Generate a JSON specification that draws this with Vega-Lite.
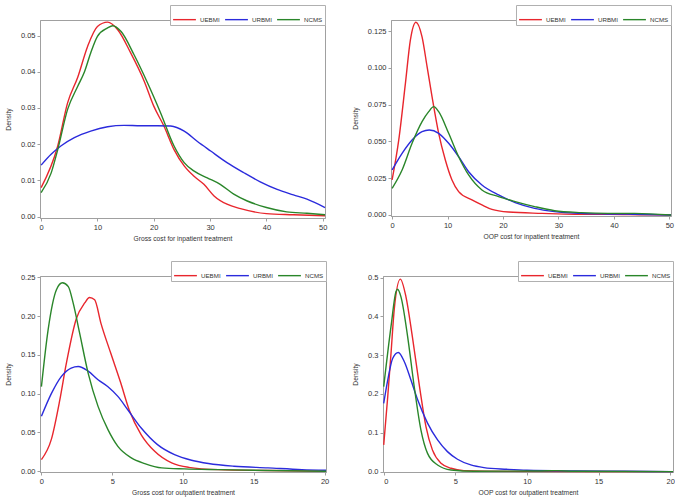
{
  "$schema": "https://vega.github.io/schema/vega-lite/v6.json",
  "background": "white",
  "padding": {"left": 4, "top": 4, "right": 2, "bottom": 2},
  "config": {
    "font": "Liberation Sans",
    "view": {"stroke": "#a0a0a0", "strokeWidth": 1},
    "axis": {"grid": false, "domainColor": "#a0a0a0", "tickColor": "#a0a0a0", "tickSize": 3, "labelFontSize": 7.5, "labelColor": "#333", "titleFontSize": 6.7, "titleFontWeight": "normal", "titleColor": "#333", "labelPadding": 2},
    "axisY": {"titlePadding": 9},
    "axisX": {"titlePadding": 5},
    "legend": {"orient": "none", "direction": "horizontal", "symbolType": "stroke", "symbolSize": 520, "symbolStrokeWidth": 1.5, "labelFontSize": 6.2, "labelColor": "#333", "strokeColor": "#b0b0b0", "padding": 2, "columnPadding": 2, "labelOffset": 3, "title": null, "fillColor": "white"},
    "line": {"strokeWidth": 1.4, "interpolate": "monotone", "clip": true}
  },
  "datasets": {
    "p1": [
      {"x": 0, "y": 0.008, "s": "UEBMI"}, {"x": 2.95, "y": 0.0195, "s": "UEBMI"}, {"x": 4.7, "y": 0.0314, "s": "UEBMI"}, {"x": 6.5, "y": 0.0385, "s": "UEBMI"}, {"x": 8.25, "y": 0.047, "s": "UEBMI"}, {"x": 10, "y": 0.0525, "s": "UEBMI"}, {"x": 11.8, "y": 0.0537, "s": "UEBMI"}, {"x": 13.6, "y": 0.0516, "s": "UEBMI"}, {"x": 15.9, "y": 0.0452, "s": "UEBMI"}, {"x": 18.3, "y": 0.0374, "s": "UEBMI"}, {"x": 20, "y": 0.0305, "s": "UEBMI"}, {"x": 21.8, "y": 0.025, "s": "UEBMI"}, {"x": 23.6, "y": 0.0185, "s": "UEBMI"}, {"x": 25.4, "y": 0.014, "s": "UEBMI"}, {"x": 27.1, "y": 0.0112, "s": "UEBMI"}, {"x": 28.9, "y": 0.0089, "s": "UEBMI"}, {"x": 30.7, "y": 0.0057, "s": "UEBMI"}, {"x": 33, "y": 0.0034, "s": "UEBMI"}, {"x": 35.4, "y": 0.0022, "s": "UEBMI"}, {"x": 40, "y": 0.0008, "s": "UEBMI"}, {"x": 44.8, "y": 0.0005, "s": "UEBMI"}, {"x": 50.4, "y": 0.0002, "s": "UEBMI"},
      {"x": 0, "y": 0.0142, "s": "URBMI"}, {"x": 1.77, "y": 0.0172, "s": "URBMI"}, {"x": 3.5, "y": 0.0195, "s": "URBMI"}, {"x": 5.9, "y": 0.0218, "s": "URBMI"}, {"x": 8.8, "y": 0.0236, "s": "URBMI"}, {"x": 11.8, "y": 0.0248, "s": "URBMI"}, {"x": 14.7, "y": 0.0252, "s": "URBMI"}, {"x": 17.7, "y": 0.0251, "s": "URBMI"}, {"x": 20.6, "y": 0.0251, "s": "URBMI"}, {"x": 23, "y": 0.025, "s": "URBMI"}, {"x": 25.4, "y": 0.0236, "s": "URBMI"}, {"x": 27.7, "y": 0.0208, "s": "URBMI"}, {"x": 30.1, "y": 0.0181, "s": "URBMI"}, {"x": 33, "y": 0.0149, "s": "URBMI"}, {"x": 36, "y": 0.0121, "s": "URBMI"}, {"x": 38.9, "y": 0.0096, "s": "URBMI"}, {"x": 41.9, "y": 0.0075, "s": "URBMI"}, {"x": 44.8, "y": 0.006, "s": "URBMI"}, {"x": 47.2, "y": 0.0048, "s": "URBMI"}, {"x": 50.4, "y": 0.0025, "s": "URBMI"},
      {"x": 0, "y": 0.0066, "s": "NCMS"}, {"x": 1.77, "y": 0.012, "s": "NCMS"}, {"x": 2.95, "y": 0.0185, "s": "NCMS"}, {"x": 4.7, "y": 0.0296, "s": "NCMS"}, {"x": 6.5, "y": 0.036, "s": "NCMS"}, {"x": 7.7, "y": 0.04, "s": "NCMS"}, {"x": 8.8, "y": 0.0452, "s": "NCMS"}, {"x": 10, "y": 0.0498, "s": "NCMS"}, {"x": 11.8, "y": 0.0521, "s": "NCMS"}, {"x": 12.7, "y": 0.0527, "s": "NCMS"}, {"x": 14.2, "y": 0.0511, "s": "NCMS"}, {"x": 16.5, "y": 0.0447, "s": "NCMS"}, {"x": 18.9, "y": 0.0369, "s": "NCMS"}, {"x": 21.2, "y": 0.0287, "s": "NCMS"}, {"x": 23.6, "y": 0.0195, "s": "NCMS"}, {"x": 25.4, "y": 0.0149, "s": "NCMS"}, {"x": 27.1, "y": 0.0126, "s": "NCMS"}, {"x": 29.5, "y": 0.0107, "s": "NCMS"}, {"x": 31.8, "y": 0.0089, "s": "NCMS"}, {"x": 34.2, "y": 0.0062, "s": "NCMS"}, {"x": 36.6, "y": 0.0043, "s": "NCMS"}, {"x": 40, "y": 0.0025, "s": "NCMS"}, {"x": 43.6, "y": 0.0013, "s": "NCMS"}, {"x": 47.2, "y": 0.0009, "s": "NCMS"}, {"x": 50.4, "y": 0.0005, "s": "NCMS"}
    ],
    "p2": [
      {"x": 0, "y": 0.0238, "s": "UEBMI"}, {"x": 1.2, "y": 0.051, "s": "UEBMI"}, {"x": 2.4, "y": 0.0894, "s": "UEBMI"}, {"x": 3.3, "y": 0.119, "s": "UEBMI"}, {"x": 4.3, "y": 0.131, "s": "UEBMI"}, {"x": 5.4, "y": 0.121, "s": "UEBMI"}, {"x": 6.3, "y": 0.101, "s": "UEBMI"}, {"x": 7.2, "y": 0.0804, "s": "UEBMI"}, {"x": 8.4, "y": 0.0555, "s": "UEBMI"}, {"x": 9.6, "y": 0.0374, "s": "UEBMI"}, {"x": 10.8, "y": 0.0238, "s": "UEBMI"}, {"x": 12, "y": 0.0159, "s": "UEBMI"}, {"x": 14.4, "y": 0.0102, "s": "UEBMI"}, {"x": 16.2, "y": 0.0068, "s": "UEBMI"}, {"x": 18, "y": 0.0038, "s": "UEBMI"}, {"x": 21, "y": 0.002, "s": "UEBMI"}, {"x": 27, "y": 0.0011, "s": "UEBMI"}, {"x": 33, "y": 0.0005, "s": "UEBMI"}, {"x": 39, "y": 0.0005, "s": "UEBMI"}, {"x": 45, "y": 0.0002, "s": "UEBMI"}, {"x": 50.3, "y": 0.0, "s": "UEBMI"},
      {"x": 0, "y": 0.0306, "s": "URBMI"}, {"x": 1.8, "y": 0.0419, "s": "URBMI"}, {"x": 3.6, "y": 0.051, "s": "URBMI"}, {"x": 5.4, "y": 0.0566, "s": "URBMI"}, {"x": 6.7, "y": 0.0577, "s": "URBMI"}, {"x": 8.4, "y": 0.0555, "s": "URBMI"}, {"x": 10.2, "y": 0.0487, "s": "URBMI"}, {"x": 12, "y": 0.0396, "s": "URBMI"}, {"x": 13.8, "y": 0.0294, "s": "URBMI"}, {"x": 16.2, "y": 0.0204, "s": "URBMI"}, {"x": 19.2, "y": 0.0136, "s": "URBMI"}, {"x": 22.2, "y": 0.0084, "s": "URBMI"}, {"x": 25.7, "y": 0.0045, "s": "URBMI"}, {"x": 29.3, "y": 0.0023, "s": "URBMI"}, {"x": 34.1, "y": 0.0011, "s": "URBMI"}, {"x": 38.9, "y": 0.0007, "s": "URBMI"}, {"x": 43.7, "y": 0.0005, "s": "URBMI"}, {"x": 50.3, "y": 0.0, "s": "URBMI"},
      {"x": 0, "y": 0.0181, "s": "NCMS"}, {"x": 1.8, "y": 0.0306, "s": "NCMS"}, {"x": 3.6, "y": 0.0487, "s": "NCMS"}, {"x": 5.4, "y": 0.0634, "s": "NCMS"}, {"x": 6.6, "y": 0.0702, "s": "NCMS"}, {"x": 7.5, "y": 0.0736, "s": "NCMS"}, {"x": 8.4, "y": 0.0702, "s": "NCMS"}, {"x": 10.2, "y": 0.0555, "s": "NCMS"}, {"x": 12, "y": 0.0396, "s": "NCMS"}, {"x": 13.8, "y": 0.0272, "s": "NCMS"}, {"x": 16.2, "y": 0.017, "s": "NCMS"}, {"x": 19.2, "y": 0.0125, "s": "NCMS"}, {"x": 22.2, "y": 0.0091, "s": "NCMS"}, {"x": 25.7, "y": 0.0057, "s": "NCMS"}, {"x": 29.3, "y": 0.0029, "s": "NCMS"}, {"x": 34.1, "y": 0.0016, "s": "NCMS"}, {"x": 38.9, "y": 0.0011, "s": "NCMS"}, {"x": 43.7, "y": 0.0011, "s": "NCMS"}, {"x": 50.3, "y": 0.0, "s": "NCMS"}
    ],
    "p3": [
      {"x": 0, "y": 0.015, "s": "UEBMI"}, {"x": 0.7, "y": 0.041, "s": "UEBMI"}, {"x": 1.3, "y": 0.092, "s": "UEBMI"}, {"x": 1.76, "y": 0.139, "s": "UEBMI"}, {"x": 2.47, "y": 0.197, "s": "UEBMI"}, {"x": 3.06, "y": 0.217, "s": "UEBMI"}, {"x": 3.4, "y": 0.224, "s": "UEBMI"}, {"x": 3.76, "y": 0.221, "s": "UEBMI"}, {"x": 4.2, "y": 0.191, "s": "UEBMI"}, {"x": 4.9, "y": 0.152, "s": "UEBMI"}, {"x": 5.6, "y": 0.114, "s": "UEBMI"}, {"x": 6.2, "y": 0.079, "s": "UEBMI"}, {"x": 7.05, "y": 0.047, "s": "UEBMI"}, {"x": 8, "y": 0.0257, "s": "UEBMI"}, {"x": 9.2, "y": 0.0107, "s": "UEBMI"}, {"x": 10.4, "y": 0.005, "s": "UEBMI"}, {"x": 12.5, "y": 0.002, "s": "UEBMI"}, {"x": 16, "y": 0.0009, "s": "UEBMI"}, {"x": 20.1, "y": 0.0, "s": "UEBMI"},
      {"x": 0, "y": 0.0708, "s": "URBMI"}, {"x": 0.7, "y": 0.1, "s": "URBMI"}, {"x": 1.4, "y": 0.122, "s": "URBMI"}, {"x": 2.1, "y": 0.133, "s": "URBMI"}, {"x": 2.6, "y": 0.135, "s": "URBMI"}, {"x": 3.3, "y": 0.129, "s": "URBMI"}, {"x": 4, "y": 0.118, "s": "URBMI"}, {"x": 4.7, "y": 0.109, "s": "URBMI"}, {"x": 5.4, "y": 0.0965, "s": "URBMI"}, {"x": 6.1, "y": 0.0793, "s": "URBMI"}, {"x": 7.05, "y": 0.0557, "s": "URBMI"}, {"x": 8.2, "y": 0.0343, "s": "URBMI"}, {"x": 9.4, "y": 0.0214, "s": "URBMI"}, {"x": 10.6, "y": 0.0142, "s": "URBMI"}, {"x": 11.8, "y": 0.0099, "s": "URBMI"}, {"x": 13.6, "y": 0.0064, "s": "URBMI"}, {"x": 16, "y": 0.0043, "s": "URBMI"}, {"x": 18.4, "y": 0.0021, "s": "URBMI"}, {"x": 20.1, "y": 0.0013, "s": "URBMI"},
      {"x": 0, "y": 0.109, "s": "NCMS"}, {"x": 0.47, "y": 0.182, "s": "NCMS"}, {"x": 1.06, "y": 0.234, "s": "NCMS"}, {"x": 1.48, "y": 0.243, "s": "NCMS"}, {"x": 1.9, "y": 0.238, "s": "NCMS"}, {"x": 2.24, "y": 0.217, "s": "NCMS"}, {"x": 2.7, "y": 0.178, "s": "NCMS"}, {"x": 3.3, "y": 0.1265, "s": "NCMS"}, {"x": 4, "y": 0.0836, "s": "NCMS"}, {"x": 4.7, "y": 0.0536, "s": "NCMS"}, {"x": 5.4, "y": 0.032, "s": "NCMS"}, {"x": 6.35, "y": 0.0172, "s": "NCMS"}, {"x": 7.3, "y": 0.0099, "s": "NCMS"}, {"x": 8.5, "y": 0.0043, "s": "NCMS"}, {"x": 10.1, "y": 0.003, "s": "NCMS"}, {"x": 12.5, "y": 0.002, "s": "NCMS"}, {"x": 16, "y": 0.0009, "s": "NCMS"}, {"x": 20.1, "y": 0.0, "s": "NCMS"}
    ],
    "p4": [
      {"x": 0, "y": 0.069, "s": "UEBMI"}, {"x": 0.28, "y": 0.193, "s": "UEBMI"}, {"x": 0.51, "y": 0.305, "s": "UEBMI"}, {"x": 0.74, "y": 0.42, "s": "UEBMI"}, {"x": 1.16, "y": 0.496, "s": "UEBMI"}, {"x": 1.55, "y": 0.451, "s": "UEBMI"}, {"x": 2.0, "y": 0.348, "s": "UEBMI"}, {"x": 2.5, "y": 0.219, "s": "UEBMI"}, {"x": 2.95, "y": 0.116, "s": "UEBMI"}, {"x": 3.4, "y": 0.056, "s": "UEBMI"}, {"x": 4, "y": 0.0215, "s": "UEBMI"}, {"x": 4.7, "y": 0.0086, "s": "UEBMI"}, {"x": 5.6, "y": 0.0026, "s": "UEBMI"}, {"x": 8.6, "y": 0.0005, "s": "UEBMI"}, {"x": 20.2, "y": 0.0, "s": "UEBMI"},
      {"x": 0, "y": 0.176, "s": "URBMI"}, {"x": 0.28, "y": 0.236, "s": "URBMI"}, {"x": 0.63, "y": 0.292, "s": "URBMI"}, {"x": 1.02, "y": 0.307, "s": "URBMI"}, {"x": 1.44, "y": 0.283, "s": "URBMI"}, {"x": 1.9, "y": 0.236, "s": "URBMI"}, {"x": 2.37, "y": 0.185, "s": "URBMI"}, {"x": 3.06, "y": 0.125, "s": "URBMI"}, {"x": 3.76, "y": 0.0816, "s": "URBMI"}, {"x": 4.45, "y": 0.0515, "s": "URBMI"}, {"x": 5.15, "y": 0.0318, "s": "URBMI"}, {"x": 6.08, "y": 0.0172, "s": "URBMI"}, {"x": 7, "y": 0.0103, "s": "URBMI"}, {"x": 8.6, "y": 0.006, "s": "URBMI"}, {"x": 10, "y": 0.0034, "s": "URBMI"}, {"x": 13.3, "y": 0.0017, "s": "URBMI"}, {"x": 16.8, "y": 0.0009, "s": "URBMI"}, {"x": 20.2, "y": 0.0, "s": "URBMI"},
      {"x": 0, "y": 0.219, "s": "NCMS"}, {"x": 0.51, "y": 0.374, "s": "NCMS"}, {"x": 0.86, "y": 0.464, "s": "NCMS"}, {"x": 0.97, "y": 0.47, "s": "NCMS"}, {"x": 1.2, "y": 0.451, "s": "NCMS"}, {"x": 1.67, "y": 0.348, "s": "NCMS"}, {"x": 2.13, "y": 0.219, "s": "NCMS"}, {"x": 2.6, "y": 0.107, "s": "NCMS"}, {"x": 3.06, "y": 0.047, "s": "NCMS"}, {"x": 3.76, "y": 0.017, "s": "NCMS"}, {"x": 4.7, "y": 0.0043, "s": "NCMS"}, {"x": 6.3, "y": 0.001, "s": "NCMS"}, {"x": 11, "y": 0.0017, "s": "NCMS"}, {"x": 12.1, "y": 0.0026, "s": "NCMS"}, {"x": 13.3, "y": 0.0009, "s": "NCMS"}, {"x": 20.2, "y": 0.0, "s": "NCMS"}
    ]
  },
  "spacing": 17,
  "resolve": {"scale": {"color": "independent"}, "legend": {"color": "independent"}},
  "vconcat": [
    {
      "spacing": 22,
      "resolve": {"scale": {"color": "independent"}, "legend": {"color": "independent"}},
      "hconcat": [
        {
          "width": 285, "height": 198,
          "data": {"name": "p1"},
          "mark": {"type": "line"},
          "encoding": {
            "x": {"field": "x", "type": "quantitative", "scale": {"domain": [-0.2, 50.4], "nice": false, "zero": false}, "axis": {"values": [0, 10, 20, 30, 40, 50], "title": "Gross cost for inpatient treatment"}},
            "y": {"field": "y", "type": "quantitative", "scale": {"domain": [-0.0004, 0.0543], "nice": false, "zero": false}, "axis": {"values": [0, 0.01, 0.02, 0.03, 0.04, 0.05], "format": ".2f", "title": "Density"}},
            "color": {"field": "s", "type": "nominal", "scale": {"domain": ["UEBMI", "URBMI", "NCMS"], "range": ["#e8262d", "#2b2bdc", "#2a862a"]}, "legend": {"legendX": 130, "legendY": -15}}
          }
        },
        {
          "width": 280, "height": 196,
          "data": {"name": "p2"},
          "mark": {"type": "line"},
          "encoding": {
            "x": {"field": "x", "type": "quantitative", "scale": {"domain": [-0.2, 50.3], "nice": false, "zero": false}, "axis": {"values": [0, 10, 20, 30, 40, 50], "title": "OOP cost for inpatient treatment"}},
            "y": {"field": "y", "type": "quantitative", "scale": {"domain": [-0.0007, 0.1325], "nice": false, "zero": false}, "axis": {"values": [0, 0.025, 0.05, 0.075, 0.1, 0.125], "format": ".3f", "title": "Density"}},
            "color": {"field": "s", "type": "nominal", "scale": {"domain": ["UEBMI", "URBMI", "NCMS"], "range": ["#e8262d", "#2b2bdc", "#2a862a"]}, "legend": {"legendX": 125, "legendY": -15}}
          }
        }
      ]
    },
    {
      "spacing": 22,
      "resolve": {"scale": {"color": "independent"}, "legend": {"color": "independent"}},
      "hconcat": [
        {
          "width": 286, "height": 196,
          "data": {"name": "p3"},
          "mark": {"type": "line"},
          "encoding": {
            "x": {"field": "x", "type": "quantitative", "scale": {"domain": [-0.1, 20.1], "nice": false, "zero": false}, "axis": {"values": [0, 5, 10, 15, 20], "title": "Gross cost for outpatient treatment"}},
            "y": {"field": "y", "type": "quantitative", "scale": {"domain": [-0.001, 0.2517], "nice": false, "zero": false}, "axis": {"values": [0, 0.05, 0.1, 0.15, 0.2, 0.25], "format": ".2f", "title": "Density"}},
            "color": {"field": "s", "type": "nominal", "scale": {"domain": ["UEBMI", "URBMI", "NCMS"], "range": ["#e8262d", "#2b2bdc", "#2a862a"]}, "legend": {"legendX": 131, "legendY": -15}}
          }
        },
        {
          "width": 290, "height": 196,
          "data": {"name": "p4"},
          "mark": {"type": "line"},
          "encoding": {
            "x": {"field": "x", "type": "quantitative", "scale": {"domain": [-0.05, 20.2], "nice": false, "zero": false}, "axis": {"values": [0, 5, 10, 15, 20], "title": "OOP cost for outpatient treatment"}},
            "y": {"field": "y", "type": "quantitative", "scale": {"domain": [-0.001, 0.504], "nice": false, "zero": false}, "axis": {"values": [0, 0.1, 0.2, 0.3, 0.4, 0.5], "format": ".1f", "title": "Density"}},
            "color": {"field": "s", "type": "nominal", "scale": {"domain": ["UEBMI", "URBMI", "NCMS"], "range": ["#e8262d", "#2b2bdc", "#2a862a"]}, "legend": {"legendX": 135, "legendY": -15}}
          }
        }
      ]
    }
  ]
}
